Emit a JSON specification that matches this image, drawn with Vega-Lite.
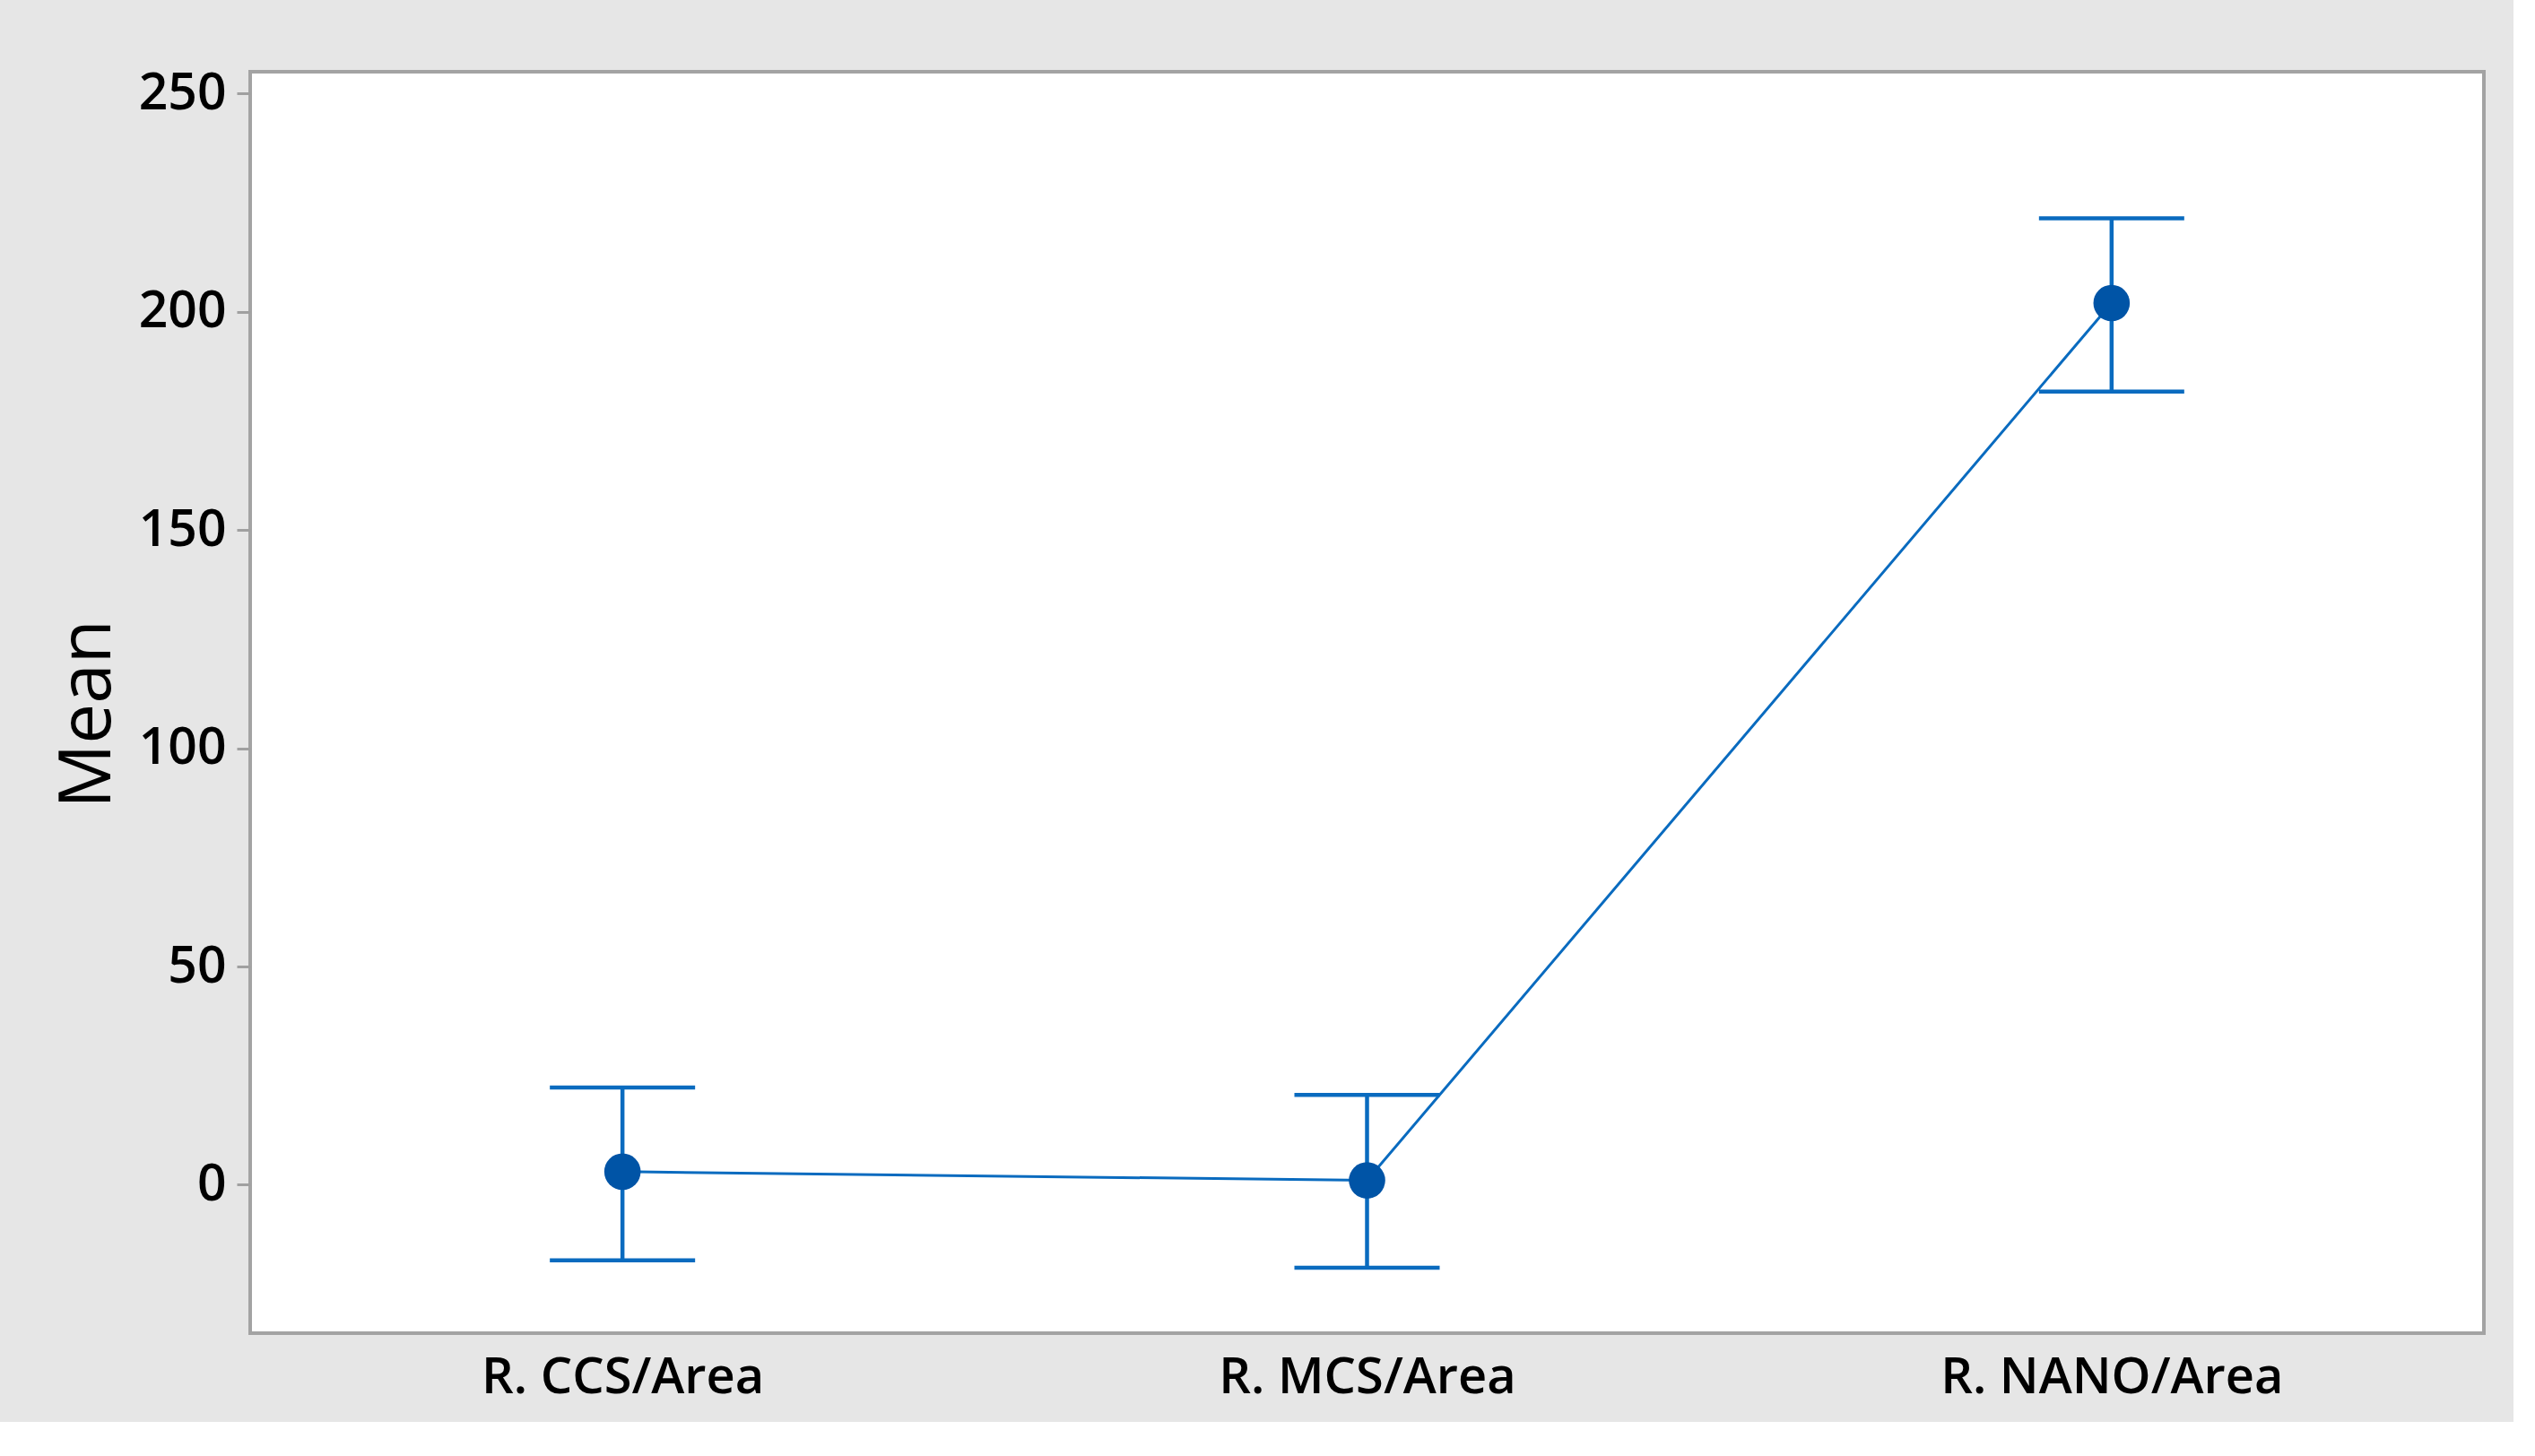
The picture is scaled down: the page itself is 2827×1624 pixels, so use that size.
{
  "$schema": "https://vega.github.io/schema/vega-lite/v6.json",
  "width": 2491,
  "height": 1407,
  "autosize": {"type": "none"},
  "padding": {"left": 279, "top": 80, "right": 33, "bottom": 99},
  "background": "#e6e6e6",
  "config": {
    "font": "Open Sans",
    "view": {"stroke": "#a3a3a3", "strokeWidth": 4, "fill": "#ffffff"}
  },
  "data": {
    "values": [
      {"level": "R. CCS/Area", "mean": 3.0, "lo": -17.3, "hi": 22.3},
      {"level": "R. MCS/Area", "mean": 1.0, "lo": -19.0, "hi": 20.6},
      {"level": "R. NANO/Area", "mean": 202.0, "lo": 181.7, "hi": 221.4}
    ]
  },
  "encoding": {
    "x": {
      "field": "level",
      "type": "nominal",
      "sort": null,
      "scale": {"type": "point", "padding": 0.5},
      "axis": {
        "title": null,
        "ticks": false,
        "domain": false,
        "labelAngle": 0,
        "labelFontSize": 56,
        "labelFontWeight": 600,
        "labelColor": "#000000",
        "labelPadding": 22,
        "labelLimit": 0
      }
    }
  },
  "layer": [
    {
      "mark": {"type": "rule", "color": "#0a6bbf", "strokeWidth": 4.5},
      "encoding": {
        "y": {
          "field": "lo",
          "type": "quantitative",
          "scale": {"domain": [-34, 255], "nice": false, "zero": false},
          "axis": {
            "values": [0, 50, 100, 150, 200, 250],
            "domain": false,
            "grid": false,
            "tickColor": "#a0a0a0",
            "tickSize": 15,
            "tickWidth": 3,
            "labelFontSize": 57,
            "labelFontWeight": 600,
            "labelColor": "#000000",
            "labelPadding": 12,
            "title": "Mean",
            "titleFontSize": 80,
            "titleFontWeight": "normal",
            "titleColor": "#000000",
            "titlePadding": 15,
            "titleY": 716
          }
        },
        "y2": {"field": "hi"}
      }
    },
    {
      "mark": {"type": "tick", "color": "#0a6bbf", "opacity": 1, "size": 162, "thickness": 4.5, "orient": "horizontal"},
      "encoding": {"y": {"field": "lo", "type": "quantitative"}}
    },
    {
      "mark": {"type": "tick", "color": "#0a6bbf", "opacity": 1, "size": 162, "thickness": 4.5, "orient": "horizontal"},
      "encoding": {"y": {"field": "hi", "type": "quantitative"}}
    },
    {
      "mark": {"type": "line", "color": "#0a6bbf", "strokeWidth": 3},
      "encoding": {"y": {"field": "mean", "type": "quantitative"}}
    },
    {
      "mark": {"type": "point", "filled": true, "opacity": 1, "color": "#0054a6", "size": 1650, "shape": "circle"},
      "encoding": {"y": {"field": "mean", "type": "quantitative"}}
    }
  ]
}
